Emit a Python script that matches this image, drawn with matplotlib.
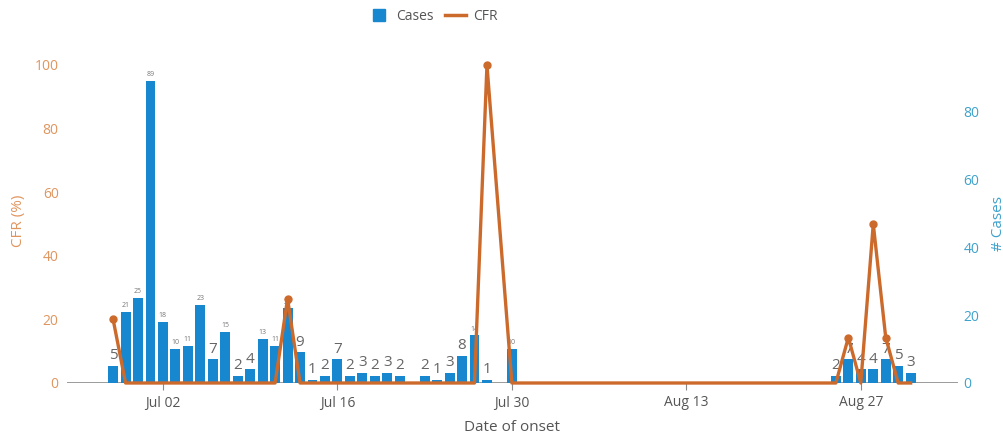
import matplotlib.pyplot as plt
import matplotlib.dates as mdates
from matplotlib.lines import Line2D
from datetime import datetime, timedelta

plt.rcParams['font.family'] = ['Open Sans', 'DejaVu Sans']

# Onset dates with reported cases and case fatality rate (%)
onset_dates = ['2020-06-28', '2020-06-29', '2020-06-30', '2020-07-01', '2020-07-02',
               '2020-07-03', '2020-07-04', '2020-07-05', '2020-07-06', '2020-07-07',
               '2020-07-08', '2020-07-09', '2020-07-10', '2020-07-11', '2020-07-12',
               '2020-07-13', '2020-07-14', '2020-07-15', '2020-07-16', '2020-07-17',
               '2020-07-18', '2020-07-19', '2020-07-20', '2020-07-21', '2020-07-23',
               '2020-07-24', '2020-07-25', '2020-07-26', '2020-07-27', '2020-07-28',
               '2020-07-30', '2020-08-25', '2020-08-26', '2020-08-27', '2020-08-28',
               '2020-08-29', '2020-08-30', '2020-08-31']
cases = [5, 21, 25, 89, 18, 10, 11, 23, 7, 15, 2, 4, 13, 11, 22,
         9, 1, 2, 7, 2, 3, 2, 3, 2, 2, 1, 3, 8, 14, 1, 10,
         2, 7, 4, 4, 7, 5, 3]
cfr = [20, 0, 0, 0, 0, 0, 0, 0, 0, 0, 0, 0, 0, 0, 26.5,
       0, 0, 0, 0, 0, 0, 0, 0, 0, 0, 0, 0, 0, 0, 100, 0,
       0, 14.3, 0, 50, 14.3, 0, 0]
tick_dates = ['2020-07-02', '2020-07-16', '2020-07-30', '2020-08-13', '2020-08-27']

blue = '#1787d0'
orange = '#cc6a2c'

dates = [datetime.strptime(d, '%Y-%m-%d') for d in onset_dates]
ticks = [datetime.strptime(d, '%Y-%m-%d') for d in tick_dates]

fig = plt.figure(figsize=(10.04, 4.37), dpi=100)
ax = fig.add_axes([67 / 1004, 1 - 383 / 437, 891 / 1004, 318 / 437])
ax2 = ax.twinx()

# bars (cases) on the right axis
ax2.bar(dates, cases, width=0.8, color=blue, zorder=2)
for d, c in zip(dates, cases):
    if c < 10:
        ax2.text(d, c + 0.8, str(c), ha='center', va='bottom', fontsize=11, color='#666666')
    else:
        ax2.text(d, c + 0.8, str(c), ha='center', va='bottom', fontsize=5, color='#777777')
ax2.axhline(0, color='#8a8a8a', lw=1.2, zorder=1)

# CFR line on the left axis, drawn on top; markers only show off the baseline
ax.set_zorder(ax2.get_zorder() + 1)
ax.patch.set_visible(False)
nonzero = [i for i, v in enumerate(cfr) if v > 0]
ax.plot(dates, cfr, color=orange, lw=2.4, marker='o', ms=5, markevery=nonzero,
        clip_on=False, zorder=3)

ax.set_ylim(0, 100)
ax2.set_ylim(0, 93.7)
start = ticks[0]
ax.set_xlim(start - timedelta(days=7.7), start + timedelta(days=63.8))

for a in (ax, ax2):
    for s in a.spines.values():
        s.set_visible(False)

ax.set_xticks(ticks)
ax.xaxis.set_major_formatter(mdates.DateFormatter('%b %d'))
ax.tick_params(axis='x', length=5, color='#8a8a8a', labelcolor='#555555', labelsize=10, pad=4)
ax.set_yticks(range(0, 101, 20))
ax.tick_params(axis='y', length=0, labelcolor='#e0955e', labelsize=10, pad=6)
ax2.set_yticks(range(0, 81, 20))
ax2.tick_params(axis='y', length=0, labelcolor='#3fa2cc', labelsize=10, pad=4)

ax.set_ylabel('CFR (%)', color='#e0955e', fontsize=11)
ax.yaxis.set_label_coords(-0.046, 0.51)
ax2.set_ylabel('# Cases', color='#3fa2cc', fontsize=11, rotation=90)
ax2.yaxis.set_label_coords(1.037, 0.5)
ax.set_xlabel('Date of onset', color='#555555', fontsize=11)
ax.xaxis.set_label_coords(0.4994, -0.115)

handles = [Line2D([], [], marker='s', ls='', color=blue, ms=9),
           Line2D([], [], color=orange, lw=2.5)]
leg = fig.legend(handles, ['Cases', 'CFR'], loc='center', bbox_to_anchor=(433 / 1004, 1 - 16 / 437),
                 ncol=2, frameon=False, fontsize=10, handlelength=1.5, columnspacing=0.8,
                 handletextpad=0.5)
for t in leg.get_texts():
    t.set_color('#555555')

fig.savefig('out.png', dpi=100)
